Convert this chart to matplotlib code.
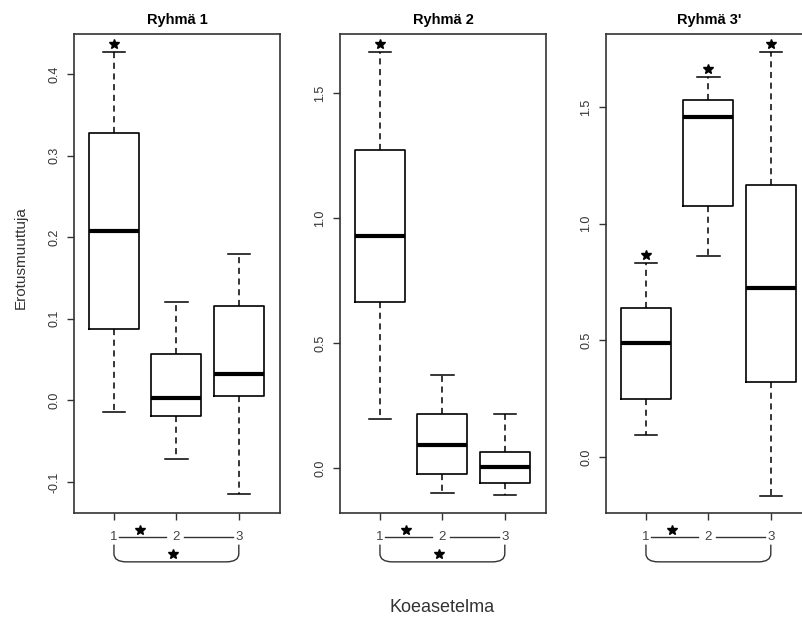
import matplotlib
matplotlib.use("Agg")
import matplotlib.pyplot as plt
from matplotlib.path import Path
from matplotlib.patches import PathPatch
import matplotlib.transforms as mtransforms

plt.rcParams.update({'font.family': ['Liberation Sans', 'DejaVu Sans'],
                     'axes.unicode_minus': False})

# box statistics (setups 1, 2, 3 in each group)
titles = ["Ryhmä 1", "Ryhmä 2", "Ryhmä 3'"]
setups = ["1", "2", "3"]

whislo = [[-0.014, -0.072, -0.115],
          [0.196, -0.100, -0.108],
          [0.094, 0.863, -0.167]]
q1 = [[0.088, -0.019, 0.005],
      [0.664, -0.024, -0.060],
      [0.247, 1.077, 0.320]]
med = [[0.207, 0.003, 0.032],
       [0.928, 0.092, 0.004],
       [0.487, 1.457, 0.725]]
q3 = [[0.328, 0.057, 0.116],
      [1.272, 0.216, 0.064],
      [0.637, 1.530, 1.167]]
whishi = [[0.427, 0.120, 0.180],
          [1.664, 0.372, 0.216],
          [0.833, 1.629, 1.736]]

# significance marks
box_star = [[True, False, False],
            [True, False, False],
            [True, True, True]]
pair12_star = [True, True, True]
pair13_star = [True, True, False]

yticks = [[-0.1, 0.0, 0.1, 0.2, 0.3, 0.4],
          [0.0, 0.5, 1.0, 1.5],
          [0.0, 0.5, 1.0, 1.5]]
ylims = [(-0.138, 0.449), (-0.18, 1.736), (-0.24, 1.813)]

W, H = 803, 618
fig = plt.figure(figsize=(W / 100, H / 100), dpi=100)
lefts = [74, 340, 606]
grey = '#333333'
star_kw = dict(marker='*', ms=7, color='black', ls='none', clip_on=False)

for i in range(3):
    ax = fig.add_axes([lefts[i] / W, 1 - 513 / H, 206 / W, 479 / H])
    stats = []
    for j in range(3):
        stats.append(dict(whislo=whislo[i][j], q1=q1[i][j], med=med[i][j],
                          q3=q3[i][j], whishi=whishi[i][j], fliers=[]))
    ax.bxp(stats, positions=[1, 2, 3], widths=0.8, capwidths=0.36,
           showfliers=False,
           boxprops=dict(color='black', linewidth=1.2),
           medianprops=dict(color='black', linewidth=3),
           whiskerprops=dict(color='black', linewidth=1.1, linestyle=(0, (4, 3))),
           capprops=dict(color='black', linewidth=1.1))

    # stars just above the upper whisker
    above = mtransforms.offset_copy(ax.transData, fig=fig, x=0, y=8, units='dots')
    for j in range(3):
        if box_star[i][j]:
            ax.plot([j + 1], [whishi[i][j]], transform=above, **star_kw)

    ax.set_xlim(0.36, 3.66)
    ax.set_ylim(*ylims[i])
    ax.set_yticks(yticks[i])
    ax.set_yticklabels(['%.1f' % v for v in yticks[i]], rotation=90, va='center')
    ax.set_xticks([1, 2, 3])
    ax.set_xticklabels([])
    ax.tick_params(axis='both', length=5, width=1, color=grey, labelcolor=grey,
                   labelsize=9)
    ax.tick_params(axis='y', pad=5)
    for sp in ax.spines.values():
        sp.set_color(grey)
        sp.set_linewidth(1.2)
    ax.set_title(titles[i], fontsize=10.5, fontweight='bold', pad=7)

    # comparison labels under the axis
    trans = mtransforms.blended_transform_factory(ax.transData, ax.transAxes)
    ly = -0.050
    for j, lab in enumerate(setups):
        ax.text(j + 1, ly, lab, transform=trans, ha='center', va='center',
                fontsize=9.5, color='#444444', clip_on=False)
    for x0, x1 in [(1.08, 1.84), (2.13, 2.9)]:
        ax.plot([x0, x1], [ly, ly], transform=trans, color=grey, lw=1,
                clip_on=False)
    if pair12_star[i]:
        ax.plot([1.42], [-0.035], transform=trans, **star_kw)
    verts = [(1, -0.066), (1, -0.085), (1, -0.102), (1.2, -0.102),
             (2.8, -0.102), (3, -0.102), (3, -0.085), (3, -0.066)]
    codes = [Path.MOVETO, Path.LINETO, Path.CURVE3, Path.CURVE3,
             Path.LINETO, Path.CURVE3, Path.CURVE3, Path.LINETO]
    ax.add_patch(PathPatch(Path(verts, codes), transform=trans, fill=False,
                           edgecolor=grey, lw=1, clip_on=False))
    if pair13_star[i]:
        ax.plot([1.95], [-0.085], transform=trans, **star_kw)

fig.text(21 / W, 1 - 258 / H, 'Erotusmuuttuja', rotation=90, ha='center',
         va='center', fontsize=11, color=grey)
fig.text(442 / W, 1 - 607 / H, 'Koeasetelma', ha='center', va='center',
         fontsize=13, color=grey)

fig.savefig('out.png', dpi=100, facecolor='white')
